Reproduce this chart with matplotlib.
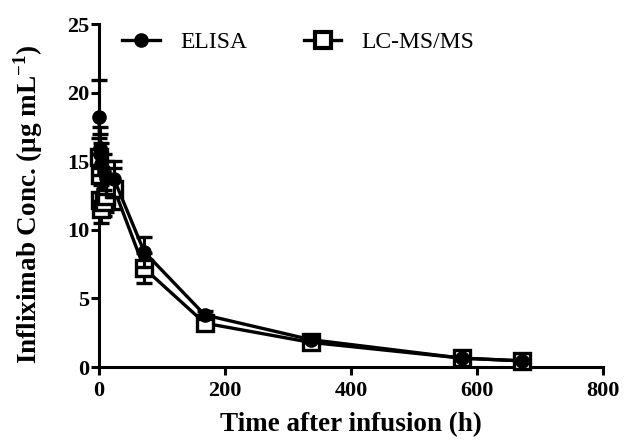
import matplotlib
matplotlib.use("Agg")
import matplotlib.pyplot as plt
from matplotlib.lines import Line2D

time_h = [0.5, 1, 2, 4, 8, 12, 24, 72, 168, 336, 576, 672]
elisa = [18.2, 16.0, 15.5, 14.8, 14.2, 13.8, 13.7, 8.4, 3.8, 2.0, 0.65, 0.45]
elisa_err = [2.7, 1.5, 1.5, 1.5, 1.3, 1.2, 1.3, 1.1, 0.3, 0.2, 0.1, 0.1]
lcms = [15.3, 14.0, 12.2, 11.5, 12.0, 12.5, 13.0, 7.2, 3.2, 1.8, 0.65, 0.45]
lcms_err = [1.4, 1.5, 1.2, 1.0, 1.0, 1.2, 1.5, 1.1, 0.3, 0.2, 0.1, 0.1]
x_ticks = [0, 200, 400, 600, 800]
y_ticks = [0, 5, 10, 15, 20, 25]

plt.rcParams['font.family'] = ['Liberation Serif', 'DejaVu Serif']
plt.rcParams['mathtext.fontset'] = 'custom'
plt.rcParams['mathtext.bf'] = 'Liberation Serif:bold'
plt.rcParams['mathtext.rm'] = 'Liberation Serif'

fig = plt.figure(figsize=(6.38, 4.46), dpi=100)
ax = fig.add_axes([0.155, 0.177, 0.79, 0.769])

ax.errorbar(time_h, lcms, yerr=lcms_err, color='black', lw=2.4, marker='s', ms=12,
            mfc='white', mec='black', mew=2.4, capsize=6, capthick=2.4, elinewidth=2.2,
            clip_on=False, zorder=3)
ax.errorbar(time_h, elisa, yerr=elisa_err, color='black', lw=2.4, marker='o', ms=9.5,
            mfc='black', mec='black', capsize=6, capthick=2.4, elinewidth=2.2,
            clip_on=False, zorder=4)

ax.set_xlim(0, 800)
ax.set_ylim(0, 25)
ax.set_xticks(x_ticks)
ax.set_yticks(y_ticks)
for s in ['top', 'right']:
    ax.spines[s].set_visible(False)
for s in ['left', 'bottom']:
    ax.spines[s].set_linewidth(2.2)
ax.tick_params(axis='both', width=2.2, length=6, labelsize=16, direction='out')
ax.tick_params(axis='y', pad=1)
ax.tick_params(axis='x', pad=4)
for lab in ax.get_xticklabels() + ax.get_yticklabels():
    lab.set_fontweight('bold')

ax.set_xlabel('Time after infusion (h)', fontsize=19.5, fontweight='bold', labelpad=8)
ax.set_ylabel('Infliximab Conc. (μg mL$^{\\mathbf{-1}}$)', fontsize=19.5, fontweight='bold')
ax.yaxis.set_label_coords(-0.106, 0.475)

h_el = Line2D([], [], color='black', lw=2.4, marker='o', ms=9.5, mfc='black')
h_lc = Line2D([], [], color='black', lw=2.4, marker='s', ms=11, mfc='white', mew=3)
ax.legend([h_el, h_lc], ['ELISA', 'LC-MS/MS'], loc='upper left', bbox_to_anchor=(0.004, 1.041),
          ncol=2, frameon=False, handlelength=1.6, columnspacing=2.4, handletextpad=0.85,
          prop={'weight': 'normal', 'size': 17})

fig.savefig('out.png', dpi=100)
